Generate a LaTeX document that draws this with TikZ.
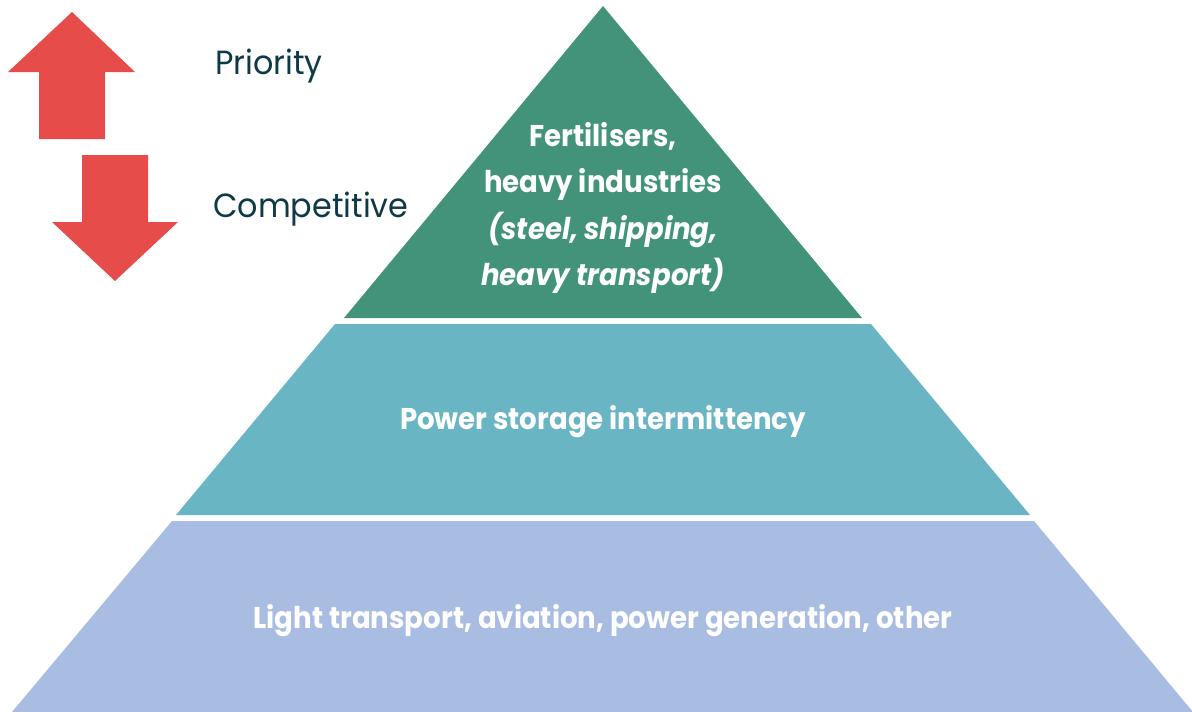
\documentclass[tikz,border=0pt]{standalone}
\usepackage{fontspec}
\newfontfamily\tierfont[FakeStretch=0.92]{Poppins}
\newfontfamily\labelfont[FakeStretch=0.95]{Poppins}
\definecolor{arrowred}{HTML}{E54C4A}
\definecolor{tiergreen}{HTML}{42937A}
\definecolor{tierteal}{HTML}{6AB5C3}
\definecolor{tierlav}{HTML}{A9BCE2}
\definecolor{labelink}{HTML}{0E3A47}
\begin{document}
\begin{tikzpicture}[x=1pt,y=-1pt,
  tiertext/.style={text=white,font=\tierfont\bfseries\fontsize{30}{32}\selectfont,anchor=base,inner sep=0pt},
  sidelabel/.style={text=labelink,font=\labelfont\fontsize{33.5}{36}\selectfont,anchor=base west,inner sep=0pt},
  arrowshape/.style={fill=arrowred,draw=none}]
\useasboundingbox (0,0) rectangle (1192,712);
\begin{scope}
\clip (0,0) rectangle (1192,712);
% pyramid tiers
\fill[tiergreen] (603,6) -- (862,318) -- (344,318) -- cycle;
\fill[tierteal] (335,324) -- (871,324) -- (1030,515) -- (176,515) -- cycle;
\fill[tierlav] (172,521) -- (1034,521) -- (1193,712) -- (12,712) -- cycle;
\end{scope}
% priority arrows
\fill[arrowshape] (72,12) -- (135,72) -- (105,72) -- (105,139) -- (39,139) -- (39,72) -- (8,72) -- cycle;
\fill[arrowshape] (82,155) -- (148,155) -- (148,222) -- (178,222) -- (115,281) -- (52,222) -- (82,222) -- cycle;
% labels
\node[sidelabel] (prio) at (215,74) {Priority};
\node[sidelabel] (comp) at (213,217) {Competitive};
% tier texts
\node[tiertext] (f1) at (603,146) {Fertilisers,};
\node[tiertext] (f2) at (603,192) {heavy industries};
\node[tiertext] (f3) at (603,239) {\itshape (steel, shipping,};
\node[tiertext] (f4) at (603,285) {\itshape heavy transport)};
\node[tiertext] (mid) at (603,429) {Power storage intermittency};
\node[tiertext] (base) at (603,628) {Light transport, aviation, power generation, other};
\end{tikzpicture}
\end{document}
